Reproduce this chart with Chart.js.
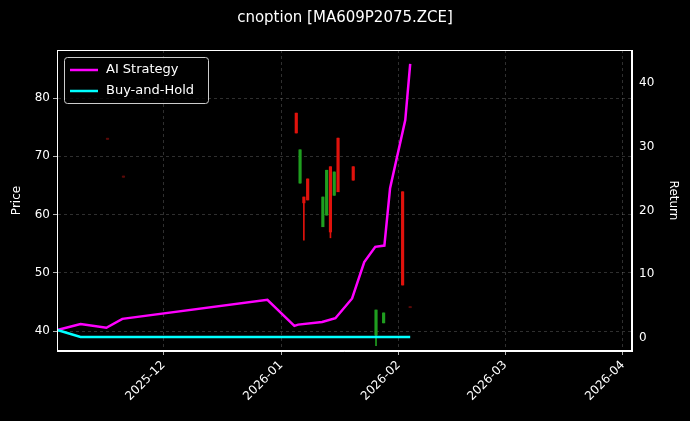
<!DOCTYPE html>
<html><head><meta charset="utf-8">
<script src="https://cdn.jsdelivr.net/npm/chart.js@4/dist/chart.umd.min.js"></script>
<style>html,body{margin:0;background:#000}canvas{display:block}</style>
</head><body><canvas id="c" width="690" height="421"></canvas>
<script>
// day offsets relative to 2025-12-01
const monthTicks = [0, 31, 62, 90, 121];
const monthLabels = ['2025-12','2026-01','2026-02','2026-03','2026-04'];
const candleDays = [-14.7,-10.5,35,36,37,38,42,43,44,45,46,50,56,58,63,65];
const candleOpen = [73.1,66.6,77.4,65.4,63.0,66.1,57.9,59.9,68.2,63.3,73.1,68.2,39.3,41.4,63.9,44.2];
const candleClose= [72.9,66.4,74.0,71.1,62.0,62.5,63.0,67.6,57.0,67.3,63.9,65.9,43.6,43.1,47.9,44.0];
const candleLow  = [72.9,66.4,74.0,65.4,55.6,62.5,57.9,59.9,56.0,63.3,63.9,65.9,37.5,41.4,47.9,44.0];
const candleHigh = [73.1,66.6,77.4,71.1,63.0,66.1,63.0,67.6,68.2,67.3,73.1,68.2,43.6,43.1,63.9,44.2];
const aiDays = [-27.9,-21.8,-15,-10.8,27.4,34.5,35.5,41.8,45.3,49.7,52.9,55.8,58.2,59.7,63.7,65];
const aiRet  = [1.25,2.2,1.6,3.0,6.0,1.9,2.1,2.5,3.1,6.2,11.9,14.3,14.5,23.5,34.2,43.0];
const bhDays = [-27.9,-21.8,65];
const bhRet  = [1.25,0.15,0.15];

const bodies = candleDays.map((d,i)=>({x:d,y:[candleOpen[i],candleClose[i]]}));
const wicks = candleDays.map((d,i)=>({x:d,y:[candleLow[i],candleHigh[i]]}));
const cols = candleDays.map((d,i)=>{const tiny=Math.abs(candleHigh[i]-candleLow[i])<0.5;
  return candleClose[i]>=candleOpen[i]?(tiny?'#0d3d0d':'#1f9e1f'):(tiny?'#5a0a08':'#e0120c');});

const grid = {color:'rgba(150,150,150,0.45)', lineWidth:0.7, drawTicks:true, tickColor:'#fff', tickLength:4, offset:false};
const border = {color:'#fff', dash:[3,3]};
const titlePlugin = {id:'t', afterDraw(ch){
  const c=ch.ctx; c.save(); c.fillStyle='#fff'; c.font='15px "DejaVu Sans"'; c.textAlign='center'; c.textBaseline='middle';
  c.fillText('cnoption [MA609P2075.ZCE]',345,18);
  const a=ch.chartArea; const x=a.left+7,y=a.top+7;
  c.fillStyle='rgba(0,0,0,0.8)'; c.strokeStyle='#ccc'; c.lineWidth=1;
  c.beginPath(); c.roundRect(x+0.5,y+0.5,144,46,3); c.fill(); c.stroke();
  c.font='13px "DejaVu Sans"'; c.textAlign='left';
  [['AI Strategy','#ff00ff'],['Buy-and-Hold','#00ffff']].forEach((e,i)=>{
    const yy=y+13+i*21; c.strokeStyle=e[1]; c.lineWidth=2.5; c.beginPath(); c.moveTo(x+6,yy); c.lineTo(x+34,yy); c.stroke();
    c.fillStyle='#fff'; c.fillText(e[0],x+42,yy);
  });
  c.strokeStyle='#fff'; c.lineWidth=1; c.strokeRect(a.left+0.5,a.top+0.5,a.right-a.left-1,a.bottom-a.top-1);
  c.restore();
}};
const bg={id:'bg',beforeDraw(ch){ch.ctx.save();ch.ctx.fillStyle='#000';ch.ctx.fillRect(0,0,690,421);ch.ctx.restore();}};
new Chart(document.getElementById('c'),{
  data:{datasets:[
    {type:'bar',data:wicks,backgroundColor:cols,barThickness:1,yAxisID:'y',order:3,grouped:false},
    {type:'bar',data:bodies,backgroundColor:cols,barThickness:2.5,yAxisID:'y',order:2,grouped:false,minBarLength:1},
    {type:'line',data:aiDays.map((d,i)=>({x:d,y:aiRet[i]})),borderColor:'#ff00ff',borderWidth:2.5,pointRadius:0,yAxisID:'y2',order:1},
    {type:'line',data:bhDays.map((d,i)=>({x:d,y:bhRet[i]})),borderColor:'#00ffff',borderWidth:2.5,pointRadius:0,yAxisID:'y2',order:0}
  ]},
  options:{responsive:false,animation:false,
    layout:{padding:{top:50,left:0,right:0,bottom:0}},
    plugins:{legend:{display:false},tooltip:{enabled:false}},
    scales:{
      x:{type:'linear',offset:false,min:-28,max:123.4,grid:grid,border:border,
        afterBuildTicks(s){s.ticks=monthTicks.map(v=>({value:v}));},
        afterFit(s){s.height=70;},
        ticks:{color:'#fff',font:{size:12,family:'DejaVu Sans'},maxRotation:45,minRotation:45,
          callback(v){const i=monthTicks.indexOf(v);return i>=0?monthLabels[i]:'';}}},
      y:{position:'left',min:36.57,max:88.24,grid:grid,border:border,
        afterBuildTicks(s){s.ticks=[40,50,60,70,80].map(v=>({value:v}));},
        afterFit(s){s.width=57;},
        title:{display:true,text:'Price',color:'#fff',font:{size:12,family:'DejaVu Sans'},padding:{top:10,bottom:0}},
        ticks:{color:'#fff',font:{size:12,family:'DejaVu Sans'}}},
      y2:{position:'right',min:-2.04,max:45.18,grid:{display:false,drawTicks:true,tickColor:'#fff',tickLength:4},border:{color:'#fff'},
        afterBuildTicks(s){s.ticks=[0,10,20,30,40].map(v=>({value:v}));},
        afterFit(s){s.width=58;},
        title:{display:true,text:'Return',color:'#fff',font:{size:12,family:'DejaVu Sans'},padding:{top:10,bottom:0}},
        ticks:{color:'#fff',font:{size:12,family:'DejaVu Sans'}}}
    }},
  plugins:[bg,titlePlugin]
});
</script></body></html>
